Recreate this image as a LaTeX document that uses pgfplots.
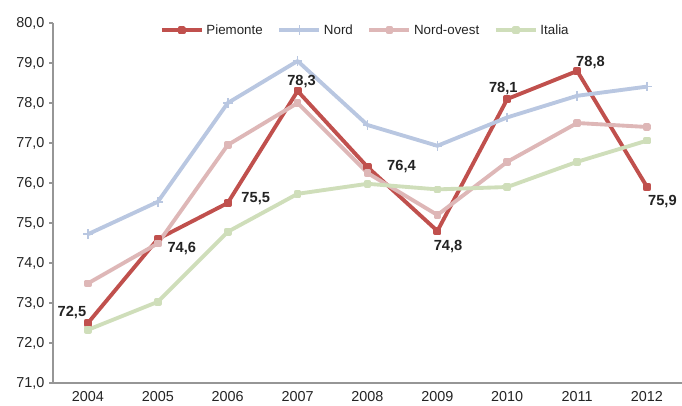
\documentclass[border=0pt]{standalone}
\usepackage{pgfplots}
\pgfplotsset{compat=1.18}
\usepackage{fontspec}
\setmainfont{Liberation Sans}
\usetikzlibrary{calc}

\definecolor{piem}{RGB}{192,80,77}
\definecolor{nord}{RGB}{185,199,225}
\definecolor{novest}{RGB}{222,183,183}
\definecolor{ital}{RGB}{207,222,186}
\definecolor{axgray}{RGB}{150,150,150}
\definecolor{txt}{RGB}{35,35,35}

% 1 px of the reference = 0.75pt
\begin{document}
\begin{tikzpicture}
\begin{axis}[
    scale only axis,
    width=471.75pt, height=270pt,
    xmin=2003.5, xmax=2012.5,
    ymin=71, ymax=80,
    clip=false,
    axis lines*=left,
    axis line style={axgray, line width=1.5pt},
    tick align=outside,
    major tick length=3pt,
    minor tick length=3pt,
    xtick={2004,...,2012},
    xticklabels={2004,2005,2006,2007,2008,2009,2010,2011,2012},
    x tick style={draw=none},
    minor xtick={2003.5,2004.5,...,2012.5},
    minor x tick style={axgray, line width=1.2pt},
    ytick={71,...,80},
    y tick style={axgray, line width=1.2pt},
    yticklabel style={/pgf/number format/.cd, fixed, fixed zerofill, precision=1, use comma, assume math mode=true},
    ticklabel style={font=\fontsize{10.8}{12}\selectfont, text=txt},
    every axis plot/.append style={line width=2.9pt, line join=round},
    legend style={at={(0.497,0.98)}, anchor=center, draw=none, fill=none,
        font=\fontsize{10}{12}\selectfont, text=txt,
        /tikz/every even column/.append style={column sep=9pt}},
    legend columns=4,
    legend image code/.code={\draw[mark repeat=2, mark phase=2, #1]
        plot coordinates {(0pt,0pt) (15pt,0pt) (30pt,0pt)};},
]

% Piemonte
\addplot[piem, mark=square*, mark size=1.6pt, mark options={fill=piem!80!black, draw=none}] coordinates {
    (2004,72.5) (2005,74.6) (2006,75.5) (2007,78.3) (2008,76.4)
    (2009,74.8) (2010,78.1) (2011,78.8) (2012,75.9)
};
% Nord
\addplot[nord, mark=+, mark size=3.6pt, mark options={line width=1.2pt}] coordinates {
    (2004,74.72) (2005,75.53) (2006,78.0) (2007,79.05) (2008,77.45)
    (2009,76.93) (2010,77.64) (2011,78.18) (2012,78.41)
};
% Nord-ovest
\addplot[novest, mark=square*, mark size=1.4pt, mark options={draw=none, fill=novest!92!black}] coordinates {
    (2004,73.49) (2005,74.49) (2006,76.95) (2007,78.0) (2008,76.25)
    (2009,75.2) (2010,76.53) (2011,77.5) (2012,77.4)
};
% Italia
\addplot[ital, mark=square*, mark size=1.4pt, mark options={draw=none, fill=ital!92!black}] coordinates {
    (2004,72.33) (2005,73.03) (2006,74.78) (2007,75.73) (2008,75.98)
    (2009,75.84) (2010,75.9) (2011,76.53) (2012,77.06)
};

\legend{Piemonte, Nord, Nord-ovest, Italia}

% value labels for Piemonte
\tikzset{vlab/.style={font=\bfseries\fontsize{11}{12}\selectfont, text=txt, inner sep=0pt}}
\node[vlab, xshift=-12pt, yshift=7.5pt] at (axis cs:2004,72.5) {72,5};
\node[vlab, xshift=18pt, yshift=-7.5pt] at (axis cs:2005,74.6) {74,6};
\node[vlab, xshift=21pt, yshift=3pt] at (axis cs:2006,75.5) {75,5};
\node[vlab, xshift=3pt, yshift=7pt] at (axis cs:2007,78.3) {78,3};
\node[vlab, xshift=25.5pt, yshift=0.5pt] at (axis cs:2008,76.4) {76,4};
\node[vlab, xshift=8pt, yshift=-12pt] at (axis cs:2009,74.8) {74,8};
\node[vlab, xshift=-3pt, yshift=7.5pt] at (axis cs:2010,78.1) {78,1};
\node[vlab, xshift=10pt, yshift=6pt] at (axis cs:2011,78.8) {78,8};
\node[vlab, xshift=11.5pt, yshift=-11pt] at (axis cs:2012,75.9) {75,9};
\end{axis}
\pgfresetboundingbox
\path ($(current axis.south west)+(-39.75pt,-17.25pt)$) rectangle ($(current axis.north east)+(0pt,17.25pt)$);
\end{tikzpicture}
\end{document}
